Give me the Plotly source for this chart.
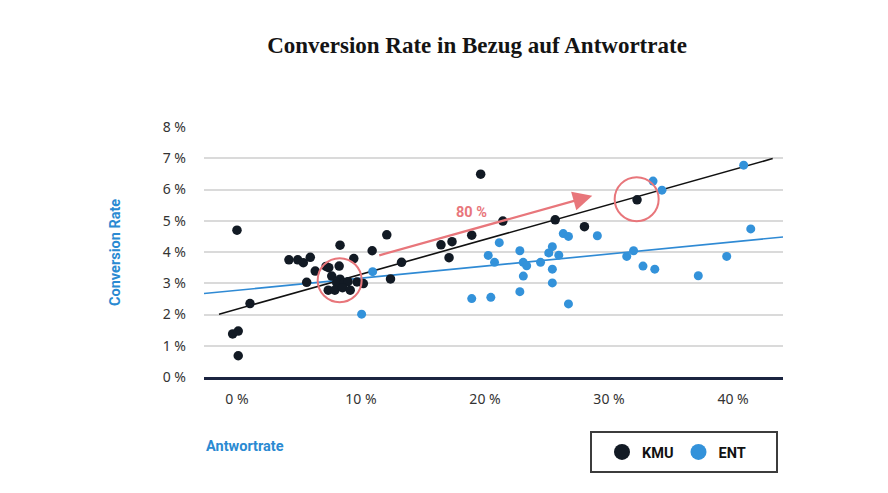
import plotly.graph_objects as go

# ---- data (percent units) ----
kmu_x = [0.0, -0.35, 0.1, 0.1, 1.05, 4.19, 4.9, 5.35, 5.91, 5.62, 6.31, 7.18, 7.4, 8.24, 8.31,
         9.42, 7.64, 8.31, 8.04, 8.63, 8.95, 7.36, 7.89, 8.51, 9.13, 9.68, 10.19, 10.9, 12.08,
         12.38, 13.27, 16.45, 17.34, 17.1, 18.93, 19.65, 21.44, 25.66, 28.02, 32.26]
kmu_y = [4.70, 1.38, 1.47, 0.68, 2.35, 3.75, 3.75, 3.66, 3.83, 3.03, 3.39, 3.54, 3.50, 3.55, 4.22,
         3.79, 3.23, 3.13, 3.02, 3.02, 3.05, 2.78, 2.78, 2.86, 2.78, 3.04, 2.99, 4.04, 4.55,
         3.14, 3.67, 4.23, 4.33, 3.82, 4.54, 6.49, 4.99, 5.03, 4.81, 5.67]

ent_x = [10.94, 10.05, 18.93, 20.47, 20.26, 20.77, 21.15, 22.81, 23.08, 23.36, 23.09, 22.81,
         24.48, 25.14, 25.43, 25.95, 25.43, 25.43, 26.31, 26.73, 26.73, 29.06, 31.43, 31.98,
         32.74, 33.69, 33.55, 34.27, 37.2, 39.49, 40.86, 41.43]
ent_y = [3.37, 2.01, 2.51, 2.55, 3.89, 3.67, 4.30, 4.04, 3.67, 3.56, 3.23, 2.73,
         3.67, 3.97, 4.17, 3.90, 3.45, 3.01, 4.59, 4.50, 2.34, 4.52, 3.86, 4.04,
         3.55, 3.45, 6.27, 5.98, 3.24, 3.86, 6.78, 4.74]

kmu_trend_x = [-1.45, 43.2]
kmu_trend_y = [2.01, 6.99]
ent_trend_x = [-2.66, 44.03]
ent_trend_y = [2.67, 4.48]

x_ticks = [0, 10, 20, 30, 40]
x_tick_labels = ["0 %", "10 %", "20 %", "30 %", "40 %"]
y_ticks = [0, 1, 2, 3, 4, 5, 6, 7, 8]
y_tick_labels = ["0 %", "1 %", "2 %", "3 %", "4 %", "5 %", "6 %", "7 %", "8 %"]

arrow_from = (11.35, 3.88)
arrow_to = (28.65, 5.80)
arrow_label = "80 %"
highlight_centers = [(8.28, 3.10), (32.23, 5.69)]

KMU_COLOR = "#121a24"
ENT_COLOR = "#3392da"
RED = "#e8767b"
BLUE_TXT = "#2a8ad2"

fig = go.Figure()

fig.add_trace(go.Scatter(x=ent_trend_x, y=ent_trend_y, mode="lines",
                         line=dict(color="#2f8ad4", width=1.6), showlegend=False, hoverinfo="skip"))
fig.add_trace(go.Scatter(x=kmu_trend_x, y=kmu_trend_y, mode="lines",
                         line=dict(color="#111111", width=1.6), showlegend=False, hoverinfo="skip"))
fig.add_trace(go.Scatter(x=ent_x, y=ent_y, mode="markers", name="ENT",
                         marker=dict(color=ENT_COLOR, size=9), showlegend=False))
fig.add_trace(go.Scatter(x=kmu_x, y=kmu_y, mode="markers", name="KMU",
                         marker=dict(color=KMU_COLOR, size=9.5), showlegend=False))
# legend entries
fig.add_trace(go.Scatter(x=[None], y=[None], mode="markers", name="KMU",
                         marker=dict(color=KMU_COLOR, size=16)))
fig.add_trace(go.Scatter(x=[None], y=[None], mode="markers", name="ENT",
                         marker=dict(color=ENT_COLOR, size=16)))

# highlight circles
for cx, cy in highlight_centers:
    fig.add_shape(type="circle", xref="x", yref="y", xsizemode="pixel", ysizemode="pixel",
                  xanchor=cx, yanchor=cy, x0=-22, x1=22, y0=-22, y1=22,
                  line=dict(color=RED, width=2))

# arrow
fig.add_annotation(x=arrow_to[0], y=arrow_to[1], ax=arrow_from[0], ay=arrow_from[1],
                   xref="x", yref="y", axref="x", ayref="y", text="", showarrow=True,
                   arrowhead=2, arrowsize=1.75, arrowwidth=2.2, arrowcolor=RED)
fig.add_annotation(x=18.93, y=5.25, xref="x", yref="y", text="<b>" + arrow_label + "</b>",
                   showarrow=False, font=dict(family="Roboto", size=14.5, color=RED))

# legend box
fig.add_shape(type="rect", xref="paper", yref="paper",
              x0=(591 - 204) / 579, x1=(777 - 204) / 579,
              y0=(377 - 472) / 250, y1=(377 - 432) / 250,
              line=dict(color="#3c3c3c", width=2), fillcolor="rgba(0,0,0,0)")

# axis titles
fig.add_annotation(x=(115 - 204) / 579, y=(377 - 253) / 250, xref="paper", yref="paper",
                   xanchor="center", yanchor="middle",
                   text="<b>Conversion Rate</b>", textangle=-90, showarrow=False,
                   font=dict(family="Roboto", size=14.5, color=BLUE_TXT))
fig.add_annotation(x=0, y=(377 - 446) / 250, xref="paper", yref="paper",
                   xanchor="left", yanchor="middle",
                   text="<b>Antwortrate</b>", showarrow=False,
                   font=dict(family="Roboto", size=14.5, color=BLUE_TXT))

fig.update_layout(
    width=888, height=493,
    margin=dict(l=204, r=105, t=127, b=116),
    plot_bgcolor="white", paper_bgcolor="white",
    title=dict(text="<b>Conversion Rate in Bezug auf Antwortrate</b>",
               x=477 / 888, xanchor="center", y=1 - 45 / 493, yanchor="middle",
               font=dict(family="Liberation Serif", size=23, color="#141414")),
    xaxis=dict(range=[-2.66, 44.03], tickvals=x_ticks, ticktext=x_tick_labels,
               showgrid=False, zeroline=False, showline=True, linecolor="#1b2440", linewidth=3,
               ticks="", ticklabelstandoff=7,
               tickfont=dict(family="Noto Sans", size=14, color="#333333")),
    yaxis=dict(range=[0, 8], tickvals=y_ticks, ticktext=y_tick_labels,
               showgrid=True, gridcolor="#dadada", gridwidth=1.5, zeroline=False,
               showline=False, ticks="", ticklabelstandoff=17,
               tickfont=dict(family="Noto Sans", size=14, color="#333333")),
    legend=dict(orientation="h", x=(602 - 204) / 579, xanchor="left",
                y=(377 - 452) / 250, yanchor="middle", bgcolor="rgba(0,0,0,0)",
                borderwidth=0, font=dict(family="Roboto", size=14.5, color="#111111", weight="bold"),
                itemsizing="trace"),
)

fig.write_html("out.html", config={"displayModeBar": False},
               post_script="document.body.style.margin='0';")
